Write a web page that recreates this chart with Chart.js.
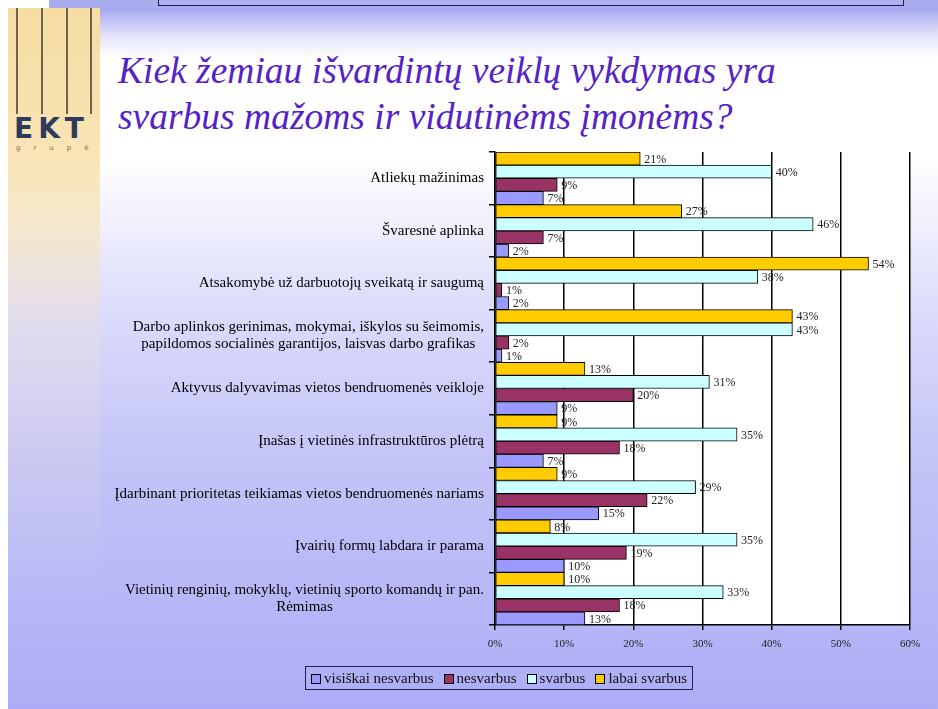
<!DOCTYPE html>
<html lang="lt">
<head>
<meta charset="utf-8">
<title>Veiklų svarba MVĮ</title>
<script src="https://cdn.jsdelivr.net/npm/chart.js@4.4.1/dist/chart.umd.min.js"></script>
<style>
  html, body { margin: 0; padding: 0; background: #fff; }
  body { width: 938px; height: 709px; position: relative; overflow: hidden; font-family: "Liberation Serif", serif; }
  .slide {
    position: absolute; left: 8px; top: 8px; width: 930px; height: 701px;
    background: linear-gradient(to bottom, #a4a6f0 0px, #e4e4fb 28px, #ffffff 50px, #ffffff 150px, #dcdcfb 300px, #c4c4f8 450px, #adadf7 701px);
  }
  .topband { position: absolute; left: 49px; top: 0; width: 889px; height: 8px; background: #a9abef; }
  .topbox { position: absolute; left: 158px; top: -2px; width: 744px; height: 6px; border: 1.5px solid #1c1c4c; background: #aeb0f0; }
  .logo {
    position: absolute; left: 8px; top: 8px; width: 92px; height: 701px;
    background: linear-gradient(to bottom, #f6dca2 0px, #f8e4b6 150px, rgba(240,225,210,0.3) 320px, rgba(190,190,245,0) 600px);
  }
  .logo .bar { position: absolute; top: 0; width: 1.5px; height: 106px; background: #6f6350; }
  .logo .ekt { position: absolute; left: 6px; top: 104px; font: bold 28px "DejaVu Sans", sans-serif; color: #2d3a5c; letter-spacing: 5px; }
  .logo .grupe { position: absolute; left: 8px; top: 136px; font: 7px "DejaVu Sans", sans-serif; color: #8b6b3e; letter-spacing: 13px; }
  .title {
    position: absolute; left: 118px; top: 48px; font: italic 37.5px "Liberation Serif", serif;
    color: #5522c8; line-height: 46px; white-space: nowrap;
  }
  #wrap { position: absolute; left: 0; top: 0; width: 938px; height: 709px; }
  #legend {
    position: absolute; left: 305px; top: 666px; height: 22px; padding: 0 5px;
    border: 1.5px solid #20204e; display: flex; align-items: center; gap: 10px;
    font: 15px "Liberation Serif", serif; color: #111; white-space: nowrap;
  }
  #legend span.box { display: inline-block; width: 8px; height: 8px; border: 1px solid #000; margin-right: 3px; vertical-align: -1px; }
</style>
</head>
<body>
<div class="slide"></div>
<div class="topband"></div>
<div class="topbox"></div>
<div class="logo">
  <div class="bar" style="left:8px"></div>
  <div class="bar" style="left:33px"></div>
  <div class="bar" style="left:58px"></div>
  <div class="bar" style="left:82px"></div>
  <div class="ekt">EKT</div>
  <div class="grupe">grupė</div>
</div>
<div class="title">Kiek žemiau išvardintų veiklų vykdymas yra<br>svarbus mažoms ir vidutinėms įmonėms?</div>
<div id="wrap"><canvas id="chart"></canvas></div>
<div id="legend"></div>

<script>
// veiklos (kategorijos), iš viršaus į apačią
const categories = [
  'Atliekų mažinimas',
  'Švaresnė aplinka',
  'Atsakomybė už darbuotojų sveikatą ir saugumą',
  ['Darbo aplinkos gerinimas, mokymai, iškylos su šeimomis,', 'papildomos socialinės garantijos, laisvas darbo grafikas'],
  'Aktyvus dalyvavimas vietos bendruomenės veikloje',
  'Įnašas į vietinės infrastruktūros plėtrą',
  'Įdarbinant prioritetas teikiamas vietos bendruomenės nariams',
  'Įvairių formų labdara ir parama',
  ['Vietinių renginių, mokyklų, vietinių sporto komandų ir pan.', 'Rėmimas']
];

// atsakymų dalys, %
const labaiSvarbus      = [21, 27, 54, 43, 13,  9,  9,  8, 10];
const svarbus           = [40, 46, 38, 43, 31, 35, 29, 35, 33];
const nesvarbus         = [ 9,  7,  1,  2, 20, 18, 22, 19, 18];
const visiskaiNesvarbus = [ 7,  2,  2,  1,  9,  7, 15, 10, 13];

const xTicks = [0, 10, 20, 30, 40, 50, 60];

const datasets = [
  { label: 'labai svarbus', data: labaiSvarbus, backgroundColor: '#ffcc00' },
  { label: 'svarbus', data: svarbus, backgroundColor: '#ccffff' },
  { label: 'nesvarbus', data: nesvarbus, backgroundColor: '#993366' },
  { label: 'visiškai nesvarbus', data: visiskaiNesvarbus, backgroundColor: '#9999ff' }
].map(d => Object.assign(d, {
  borderColor: '#000', borderWidth: 1, borderSkipped: false,
  categoryPercentage: 1.0, barPercentage: 1.0
}));

const serif = '"Liberation Serif", "Times New Roman", serif';

// balta braižymo sritis
const plotBg = {
  id: 'plotBg',
  beforeDraw(chart) {
    const { ctx, chartArea: a } = chart;
    ctx.save();
    ctx.fillStyle = '#ffffff';
    ctx.fillRect(a.left, a.top, a.right - a.left, a.bottom - a.top);
    ctx.restore();
  }
};

// kategorijų pavadinimai: kelios eilutės centruojamos pagal ilgiausią
const categoryLabels = {
  id: 'categoryLabels',
  afterDraw(chart) {
    const { ctx } = chart;
    const y = chart.scales.y;
    const right = y.right - 11;
    ctx.save();
    ctx.font = '15px ' + serif;
    ctx.fillStyle = '#000';
    ctx.textBaseline = 'middle';
    ctx.textAlign = 'center';
    chart.data.labels.forEach((lab, i) => {
      const lines = Array.isArray(lab) ? lab : [lab];
      const w = Math.max(...lines.map(l => ctx.measureText(l).width));
      const cy = y.getPixelForTick(i);
      lines.forEach((l, j) => {
        ctx.fillText(l, right - w / 2, cy + (j - (lines.length - 1) / 2) * 17);
      });
    });
    ctx.restore();
  }
};

// reikšmės prie stulpelių
const valueLabels = {
  id: 'valueLabels',
  afterDatasetsDraw(chart) {
    const { ctx } = chart;
    ctx.save();
    ctx.font = '12px ' + serif;
    ctx.fillStyle = '#222';
    ctx.textBaseline = 'middle';
    ctx.textAlign = 'left';
    chart.data.datasets.forEach((ds, di) => {
      chart.getDatasetMeta(di).data.forEach((bar, i) => {
        ctx.fillText(ds.data[i] + '%', bar.x + 4, bar.y + 1);
      });
    });
    ctx.restore();
  }
};

const chart = new Chart(document.getElementById('chart'), {
  type: 'bar',
  data: { labels: categories, datasets: datasets },
  options: {
    indexAxis: 'y',
    responsive: true,
    maintainAspectRatio: false,
    animation: false,
    layout: { padding: { top: 152, right: 28, bottom: 54, left: 0 } },
    plugins: {
      legend: { display: false },
      tooltip: { enabled: false }
    },
    scales: {
      x: {
        min: 0, max: 60,
        afterBuildTicks: scale => { scale.ticks = xTicks.map(v => ({ value: v })); },
        afterFit: scale => { scale.height = 30; },
        grid: { color: '#000', lineWidth: 1.5, tickLength: 5, drawOnChartArea: true },
        border: { color: '#000', width: 1.5 },
        ticks: {
          callback: v => v + '%',
          font: { family: serif, size: 11 },
          color: '#222',
          padding: 8,
          maxRotation: 0
        }
      },
      y: {
        afterFit: scale => { scale.width = 495; },
        grid: { drawOnChartArea: false, color: '#000', lineWidth: 1.5, tickLength: 6, offset: true },
        border: { color: '#000', width: 1.5 },
        ticks: { display: false }
      }
    }
  },
  plugins: [plotBg, categoryLabels, valueLabels]
});

// legenda: tokia tvarka kaip originale (nuo visiškai nesvarbus)
const legend = document.getElementById('legend');
legend.innerHTML = datasets.slice().reverse().map(d =>
  '<span><span class="box" style="background:' + d.backgroundColor + '"></span>' + d.label + '</span>'
).join('');
</script>
</body>
</html>
